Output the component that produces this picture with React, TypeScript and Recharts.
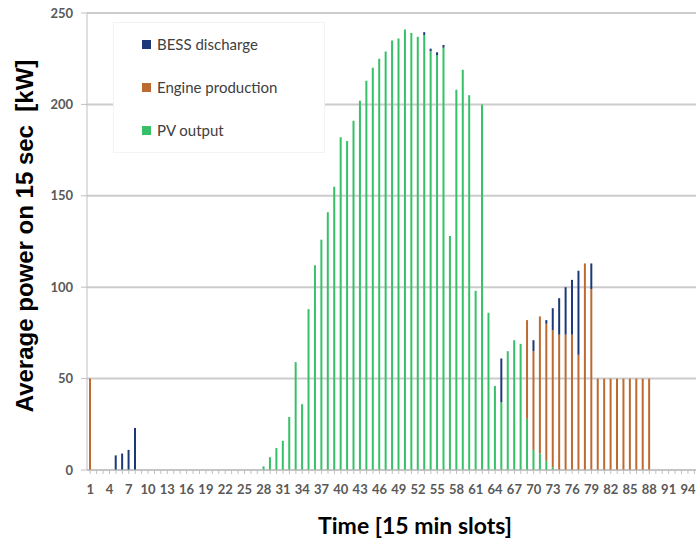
import { BarChart, Bar, XAxis, YAxis, CartesianGrid, Legend, Label } from 'recharts'

// 15-minute slots of one day
const slots = Array.from({ length: 96 }, (_, i) => i + 1)

// PV output [kW], slot 1..96
const pvOutput = [
  0, 0, 0, 0, 0, 0, 0, 0, 0, 0, 0, 0, 0, 0, 0, 0, 0, 0, 0, 0, 0, 0, 0, 0, 0, 0, 0,
  2, 7, 12, 16, 29, 59, 36, 88, 112, 126, 141, 155, 182, 180, 191, 202, 213, 220,
  225, 229, 235, 236, 241, 239, 237, 238, 229, 227, 231, 128, 208, 219, 205, 98,
  200, 86, 46, 37, 65, 71, 69, 28, 11, 9, 5, 1.5,
  0, 0, 0, 0, 0, 0, 0, 0, 0, 0, 0, 0, 0, 0, 0, 0, 0, 0, 0, 0, 0, 0, 0,
]

// Engine production [kW]
const engineProduction = [
  50,
  0, 0, 0, 0, 0, 0, 0, 0, 0, 0, 0, 0, 0, 0, 0, 0, 0, 0, 0, 0, 0, 0, 0, 0, 0, 0, 0,
  0, 0, 0, 0, 0, 0, 0, 0, 0, 0, 0, 0, 0, 0, 0, 0, 0, 0, 0, 0, 0, 0, 0, 0, 0, 0, 0,
  0, 0, 0, 0, 0, 0, 0, 0, 0, 0, 0, 0, 0,
  54, 54, 75, 75, 75, 74, 74, 74, 63, 113, 99,
  50, 50, 50, 50, 50, 50, 50, 50, 50,
  0, 0, 0, 0, 0, 0, 0, 0,
]

// BESS discharge [kW]
const bessDischarge = [
  0, 0, 0, 0, 8, 9, 11, 23,
  0, 0, 0, 0, 0, 0, 0, 0, 0, 0, 0, 0, 0, 0, 0, 0, 0, 0, 0, 0, 0, 0, 0, 0,
  0, 0, 0, 0, 0, 0, 0, 0, 0, 0, 0, 0, 0, 0, 0, 0, 0, 0, 0, 0,
  1.5, 1.5, 1.5, 1.5,
  0, 0, 0, 0, 0, 0, 0, 0,
  24, 0, 0, 0, 0,
  6, 0, 2, 12, 20, 26, 30, 46, 0, 14,
  0, 0, 0, 0, 0, 0, 0, 0, 0, 0, 0, 0, 0, 0, 0, 0, 0,
]

const yTicks = [0, 50, 100, 150, 200, 250]

const PV_COLOR = '#36c067'
const ENGINE_COLOR = '#bd6a30'
const BESS_COLOR = '#1d3878'

const rows = slots.map((slot, i) => ({
  slot,
  pv: pvOutput[i],
  engine: engineProduction[i],
  bess: bessDischarge[i],
}))

const tickFont = { fontFamily: 'Lato', fontWeight: 700, fontSize: 13, fill: '#595959' }

// every slot gets a tick mark, only every third one a number
function SlotTick(props: any) {
  const { x, y, payload, index } = props
  if (index % 3 !== 0) return null
  return (
    <text x={x} y={y + 18} textAnchor="middle" {...tickFont}>
      {payload.value}
    </text>
  )
}

function LegendBox(props: any) {
  const items = props.payload || []
  return (
    <div
      style={{
        width: 212,
        height: 131,
        boxSizing: 'border-box',
        background: '#fff',
        border: '1px solid #f3f3f3',
        position: 'relative',
        fontFamily: 'Lato',
        fontSize: 15,
        color: '#404040',
      }}
    >
      {items.map((item: any, i: number) => (
        <div
          key={item.value}
          style={{
            position: 'absolute',
            left: 28,
            top: 12 + i * 43,
            display: 'flex',
            alignItems: 'center',
            whiteSpace: 'nowrap',
          }}
        >
          <span style={{ width: 9, height: 9, background: item.color, marginRight: 6 }} />
          {item.value}
        </div>
      ))}
    </div>
  )
}

export default function App() {
  return (
    <div
      style={{
        position: 'fixed',
        left: 0,
        top: 0,
        width: 696,
        height: 542,
        overflow: 'hidden',
        background: '#fff',
      }}
    >
      <BarChart
        width={704}
        height={542}
        data={rows}
        margin={{ top: 13, right: 0, bottom: 42, left: 0 }}
        barCategoryGap={0}
      >
        <CartesianGrid vertical={false} stroke="#cccccc" strokeWidth={2} />
        <XAxis
          dataKey="slot"
          interval={0}
          height={30}
          stroke="#bfbfbf"
          tickSize={4}
          tickMargin={2}
          tick={<SlotTick />}
        >
          <Label
            content={() => (
              <text
                x={415}
                y={534}
                textAnchor="middle"
                fontFamily="Lato"
                fontWeight={700}
                fontSize={23}
                fill="#000"
              >
                Time [15 min slots]
              </text>
            )}
          />
        </XAxis>
        <YAxis
          width={87}
          domain={[0, 250]}
          ticks={yTicks}
          stroke="#bfbfbf"
          tickSize={6}
          tickMargin={8}
          tick={tickFont}
        >
          <Label
            content={() => (
              <text
                transform="translate(33, 236) rotate(-90)"
                textAnchor="middle"
                fontFamily="Liberation Sans, Arial, sans-serif"
                fontWeight={700}
                fontSize={24}
                fill="#000"
                style={{ whiteSpace: 'pre' }}
              >
                Average power on 15 sec  [kW]
              </text>
            )}
          />
        </YAxis>
        <Legend
          layout="vertical"
          align="center"
          verticalAlign="middle"
          wrapperStyle={{ left: 113, top: 22, width: 212, height: 131 }}
          content={<LegendBox />}
        />
        <Bar dataKey="pv" name="PV output" stackId="p" fill={PV_COLOR} barSize={2} isAnimationActive={false} />
        <Bar dataKey="engine" name="Engine production" stackId="p" fill={ENGINE_COLOR} barSize={2} isAnimationActive={false} />
        <Bar dataKey="bess" name="BESS discharge" stackId="p" fill={BESS_COLOR} barSize={2} isAnimationActive={false} />
      </BarChart>
    </div>
  )
}
